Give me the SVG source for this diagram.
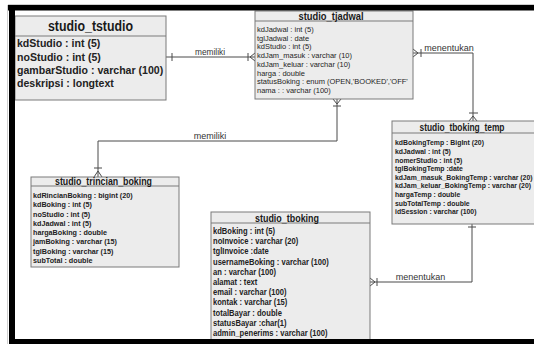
<svg xmlns="http://www.w3.org/2000/svg" width="534" height="344" viewBox="0 0 534 344">
<style>
.box{fill:#ececec;stroke:#7a7a7a;stroke-width:1}
.sep{stroke:#7a7a7a;stroke-width:1}
.hdr{font-family:"Liberation Sans",Arial,sans-serif;font-weight:bold;fill:#1a1a1a;text-anchor:middle}
.bb{font-family:"Liberation Sans",Arial,sans-serif;font-weight:bold;fill:#222}
.br{font-family:"Liberation Sans",Arial,sans-serif;fill:#1e1e1e}
.conn{stroke:#4a4a4a;stroke-width:1;fill:none}
.lbl{font-family:"Liberation Sans",Arial,sans-serif;font-size:9px;fill:#333;text-anchor:middle}
</style>
<rect width="534" height="344" fill="#ffffff"/>

<g id="connectors">
  <!-- tstudio - tjadwal : memiliki -->
  <path class="conn" d="M166 57 H255 M172 53 V61 M248 53 V61 M250 57 L255 53 M250 57 L255 61"/>
  <text class="lbl" x="210" y="54.5" textLength="30" lengthAdjust="spacingAndGlyphs">memiliki</text>
  <!-- tjadwal - temp : menentukan -->
  <path class="conn" d="M413 53 H473 V121 M421 49 V57 M418 53 L413 49 M418 53 L413 57 M469 113 H478 M473 116 L469 121 M473 116 L477 121"/>
  <text class="lbl" x="449" y="51">menentukan</text>
  <!-- tjadwal - trincian : memiliki -->
  <path class="conn" d="M337 99 V141 H98 V177 M333 106 H341 M337 104 L333 99 M337 104 L341 99 M94 168 H102 M98 171 L94 177 M98 171 L102 177"/>
  <text class="lbl" x="210" y="138.5">memiliki</text>
  <!-- temp - tboking : menentukan -->
  <path class="conn" d="M472 224 V282 H370 M468 227 H476 M377 278 V286 M375 282 L370 278 M375 282 L370 286"/>
  <text class="lbl" x="420.5" y="279.5">menentukan</text>
</g>

<g id="studio_tstudio">
  <rect class="box" x="15" y="16" width="151" height="84"/>
  <line class="sep" x1="15" y1="36" x2="166" y2="36"/>
  <text class="hdr" x="90.5" y="30.5" font-size="14" textLength="85" lengthAdjust="spacingAndGlyphs">studio_tstudio</text>
  <g transform="translate(17,0) scale(0.92,1)" class="bb" font-size="11.5">
    <text x="0" y="47.5">kdStudio : int (5)</text>
    <text x="0" y="60.8">noStudio : int (5)</text>
    <text x="0" y="74.1">gambarStudio : varchar (100)</text>
    <text x="0" y="87.4">deskripsi : longtext</text>
  </g>
</g>

<g id="studio_tjadwal">
  <rect class="box" x="255" y="11" width="158" height="88"/>
  <line class="sep" x1="255" y1="21" x2="413" y2="21"/>
  <text class="hdr" x="331" y="19.5" font-size="10.5" textLength="65" lengthAdjust="spacingAndGlyphs">studio_tjadwal</text>
  <g transform="translate(257,0) scale(1,1)" class="br" font-size="7.5">
    <text x="0" y="32">kdJadwal : int (5)</text>
    <text x="0" y="40.7">tglJadwal : date</text>
    <text x="0" y="49.4">kdStudio : int (5)</text>
    <text x="0" y="58.1">kdJam_masuk : varchar (10)</text>
    <text x="0" y="66.8">kdJam_keluar : varchar (10)</text>
    <text x="0" y="75.5">harga : double</text>
    <text x="0" y="84.2">statusBoking : enum (OPEN,'BOOKED','OFF'</text>
    <text x="0" y="92.9">nama : : varchar (100)</text>
  </g>
</g>

<g id="studio_tboking_temp">
  <rect class="box" x="392" y="121" width="160" height="103"/>
  <line class="sep" x1="392" y1="133" x2="552" y2="133"/>
  <text class="hdr" x="462" y="130.5" font-size="10.5" textLength="85" lengthAdjust="spacingAndGlyphs">studio_tboking_temp</text>
  <g transform="translate(395,0) scale(0.92,1)" class="bb" font-size="7.5">
    <text x="0" y="145.4">kdBokingTemp : BigInt (20)</text>
    <text x="0" y="154">kdJadwal : int (5)</text>
    <text x="0" y="162.6">nomerStudio : int (5)</text>
    <text x="0" y="171.2">tglBokingTemp :date</text>
    <text x="0" y="179.8">kdJam_masuk_BokingTemp : varchar (20)</text>
    <text x="0" y="188.4">kdJam_keluar_BokingTemp : varchar (20)</text>
    <text x="0" y="197">hargaTemp : double</text>
    <text x="0" y="205.6">subTotalTemp : double</text>
    <text x="0" y="214.2">idSession : varchar (100)</text>
  </g>
</g>

<g id="studio_trincian_boking">
  <rect class="box" x="31" y="177" width="148" height="90"/>
  <line class="sep" x1="31" y1="186" x2="179" y2="186"/>
  <text class="hdr" x="103.5" y="185" font-size="10.5" textLength="97" lengthAdjust="spacingAndGlyphs">studio_trincian_boking</text>
  <g transform="translate(33,0) scale(0.9,1)" class="bb" font-size="8">
    <text x="0" y="198">kdRincianBoking : bigint (20)</text>
    <text x="0" y="207.3">kdBoking : int (5)</text>
    <text x="0" y="216.6">noStudio : int (5)</text>
    <text x="0" y="225.9">kdJadwal : int (5)</text>
    <text x="0" y="235.2">hargaBoking : double</text>
    <text x="0" y="244.5">jamBoking : varchar (15)</text>
    <text x="0" y="253.8">tglBoking : varchar (15)</text>
    <text x="0" y="263.1">subTotal : double</text>
  </g>
</g>

<g id="studio_tboking">
  <rect class="box" x="211" y="212" width="159" height="140"/>
  <line class="sep" x1="211" y1="223" x2="370" y2="223"/>
  <text class="hdr" x="287" y="221.5" font-size="11.5" textLength="64" lengthAdjust="spacingAndGlyphs">studio_tboking</text>
  <g transform="translate(213,0) scale(0.865,1)" class="bb" font-size="8.8">
    <text x="0" y="234.2">kdBoking : int (5)</text>
    <text x="0" y="244.4">noInvoice : varchar (20)</text>
    <text x="0" y="254.5">tglInvoice :date</text>
    <text x="0" y="264.7">usernameBoking : varchar (100)</text>
    <text x="0" y="274.9">an : varchar (100)</text>
    <text x="0" y="285.1">alamat : text</text>
    <text x="0" y="295.2">email : varchar (100)</text>
    <text x="0" y="305.4">kontak : varchar (15)</text>
    <text x="0" y="315.6">totalBayar : double</text>
    <text x="0" y="325.7">statusBayar :char(1)</text>
    <text x="0" y="335.9">admin_penerims : varchar (100)</text>
  </g>
</g>

<g id="frame">
  <line x1="8" y1="4.5" x2="534" y2="4.5" stroke="#cfcfcf" stroke-width="1"/>
  <line x1="7.5" y1="5" x2="7.5" y2="344" stroke="#cfcfcf" stroke-width="1"/>
  <rect x="8" y="5" width="526" height="5.5" fill="#000"/>
  <rect x="9" y="5" width="6" height="339" fill="#000"/>
  <rect x="9" y="339" width="525" height="5" fill="#000"/>
</g>
</svg>
